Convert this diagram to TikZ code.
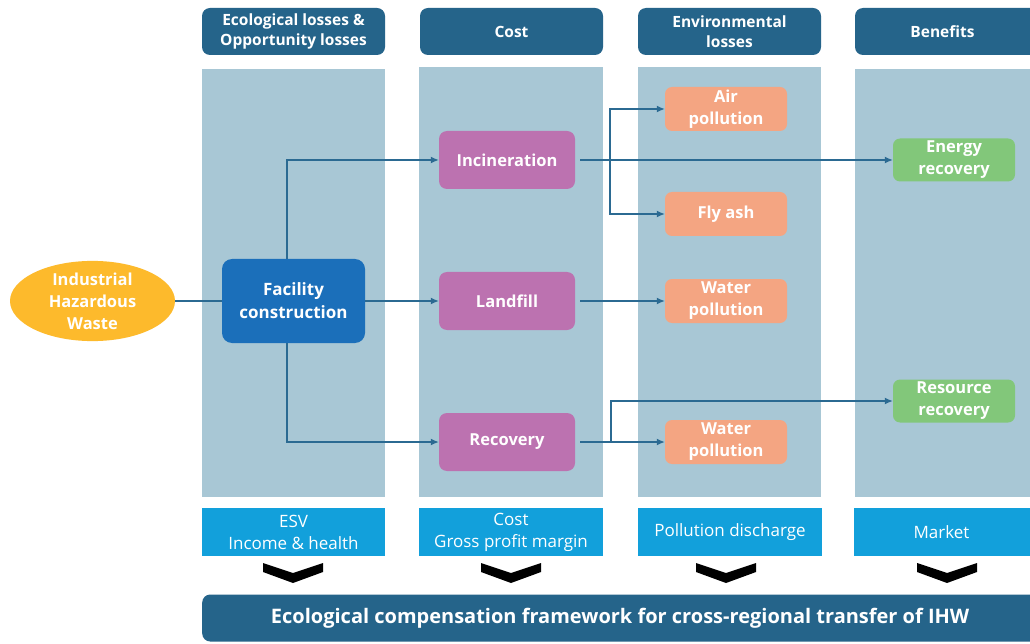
\documentclass[tikz,border=0pt]{standalone}
\usepackage{fontspec}
\setmainfont{Open Sans}
\usetikzlibrary{arrows.meta,shapes.geometric}
\definecolor{headblue}{HTML}{25648A}
\definecolor{panelblue}{HTML}{A8C7D5}
\definecolor{metricblue}{HTML}{12A0DB}
\definecolor{facblue}{HTML}{1B6FBA}
\definecolor{wasteyellow}{HTML}{FDBA2C}
\definecolor{procpurple}{HTML}{BC72B0}
\definecolor{lossorange}{HTML}{F4A582}
\definecolor{gaingreen}{HTML}{82C77A}
\definecolor{flowblue}{HTML}{2B6A92}
\tikzset{
  header/.style={fill=headblue,rounded corners=8pt,minimum width=183pt,minimum height=47pt,text=white,align=center,font=\fontsize{15.5}{20}\selectfont\bfseries,inner sep=0pt},
  metric/.style={fill=metricblue,minimum width=183pt,minimum height=48pt,text=white,align=center,font=\fontsize{17}{22}\selectfont,inner sep=0pt},
  procbox/.style={fill=procpurple,rounded corners=8pt,minimum width=136pt,minimum height=58pt,text=white,align=center,font=\fontsize{16.5}{22}\selectfont\bfseries,inner sep=0pt},
  lossbox/.style={fill=lossorange,rounded corners=7pt,minimum width=122pt,minimum height=44pt,text=white,align=center,font=\fontsize{16.5}{22}\selectfont\bfseries,inner sep=0pt},
  gainbox/.style={fill=gaingreen,rounded corners=7pt,minimum width=122pt,minimum height=43pt,text=white,align=center,font=\fontsize{16.5}{22}\selectfont\bfseries,inner sep=0pt},
  flow/.style={draw=flowblue,line width=1.3pt,-{Latex[length=8pt,width=7pt]}},
  chevron/.style={fill=black}
}
\begin{document}
\begin{tikzpicture}[x=1pt,y=1pt,yscale=-1,xscale=1]
	\clip (0,0) rectangle (1030,644);
	\fill[white] (0,0) rectangle (1030,644);
	
	%Shape: column panels
	\fill[panelblue] (202,69) rectangle (385,497);
	\fill[panelblue] (419,67) rectangle (603,497);
	\fill[panelblue] (638,67) rectangle (821,497);
	\fill[panelblue] (855,69) rectangle (1030,497);
	
	% Headers
	\node[header] (hEco) at (293.5,31.5) {Ecological losses \&\\Opportunity losses};
	\node[header] (hCost) at (511.5,31.5) {Cost};
	\node[header] (hEnv) at (729.5,31.5) {Environmental\\losses};
	\node[header,minimum width=190pt,text width=183pt] (hBen) at (950,31.5) {Benefits\hspace*{15pt}};
	
	% Metric boxes
	\node[metric] (mEsv) at (293.5,532) {ESV\\Income \& health};
	\node[metric,minimum width=184pt] (mCost) at (511,532) {Cost\\Gross profit margin};
	\node[metric,minimum width=184pt] (mPol) at (730,532) {Pollution discharge};
	\node[metric,minimum width=190pt,text width=183pt] (mMkt) at (949,532) {Market\hspace*{15pt}};
	
	%Shape: chevrons
	\foreach \cx in {293,511,726,947}
	  \fill[chevron] (\cx-30,563) -- (\cx,573) -- (\cx+30,563) -- (\cx+30,572) -- (\cx,583) -- (\cx-30,572) -- cycle;
	
	% Framework bar
	\node[fill=headblue,rounded corners=8pt,minimum width=850pt,minimum height=47pt,inner sep=0pt,anchor=west,text=white,font=\fontsize{20}{24}\selectfont\bfseries] (frame) at (202,618) {\hspace*{-14pt}Ecological compensation framework for cross-regional transfer of IHW};
	
	% Process nodes
	\node[ellipse,fill=wasteyellow,minimum width=165pt,minimum height=80pt,inner sep=0pt,text=white,align=center,font=\fontsize{16.5}{22}\selectfont\bfseries] (ihw) at (92.5,301) {Industrial\\Hazardous\\Waste};
	\node[fill=facblue,rounded corners=10pt,minimum width=143pt,minimum height=84pt,inner sep=0pt,text=white,align=center,font=\fontsize{17}{23}\selectfont\bfseries] (fac) at (293.5,301) {Facility\\construction};
	\node[procbox] (inc) at (507,160) {Incineration};
	\node[procbox] (land) at (507,301) {Landfill};
	\node[procbox] (rec) at (507,442) {Recovery};
	\node[lossbox] (air) at (726,109) {Air\\pollution};
	\node[lossbox] (fly) at (726,214) {Fly ash};
	\node[lossbox] (wat) at (726,301) {Water\\pollution};
	\node[lossbox] (watr) at (726,442) {Water\\pollution};
	\node[gainbox] (energy) at (954,160) {Energy\\recovery};
	\node[gainbox] (resrc) at (954,401) {Resource\\recovery};
	
	% Connectors
	\coordinate (facup) at ([xshift=-6.5pt]fac.north);
	\coordinate (facdown) at ([xshift=-6.5pt]fac.south);
	\coordinate (incsplit) at (610,160);
	\coordinate (recsplit) at (611,442);
	\draw[flowblue,line width=1.3pt] (ihw) -- (fac);
	\draw[flow] (facup) |- (inc);
	\draw[flow] (fac) -- (land);
	\draw[flow] (facdown) |- (rec);
	\draw[flow,shorten <=5pt] (inc) -- (energy);
	\draw[flow] (incsplit) |- (air);
	\draw[flow] (incsplit) |- (fly);
	\draw[flow,shorten <=5pt] (land) -- (wat);
	\draw[flow,shorten <=5pt] (rec) -- (watr);
	\draw[flow] (recsplit) |- (resrc);
	
\end{tikzpicture}
\end{document}
